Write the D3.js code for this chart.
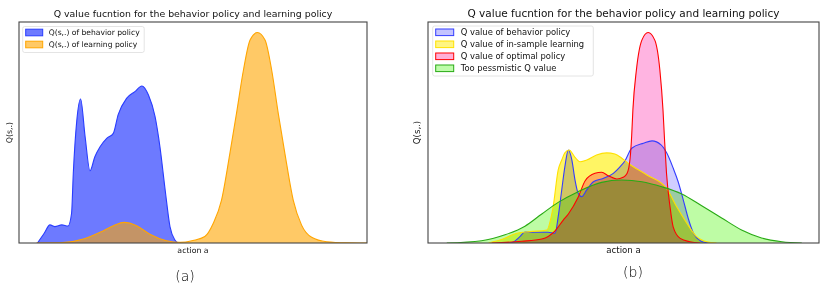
<!DOCTYPE html>
<html><head><meta charset="utf-8">
<script src="https://cdn.jsdelivr.net/npm/d3@7"></script>
<style>
body{margin:0;background:#fff;}
svg{display:block;font-family:"DejaVu Sans",sans-serif;}
</style></head>
<body><svg id="c" width="830" height="288"></svg>
<script>
// ---------- data (action a in 0..100, Q normalised to the tallest peak) ----------
const titleText = "Q value fucntion for the behavior policy and learning policy";
const xLabel = "action a";
const yLabel = "Q(s,.)";
const panelLabels = ["(a)", "(b)"];

const legendA = ["Q(s,.) of behavior policy", "Q(s,.) of learning policy"];
const behaviorA = [[5.3,0],[7.2,0.045],[8.9,0.086],[10.3,0.078],[12.3,0.086],[14.1,0.081],[15.1,0.14],[15.6,0.33],[16.6,0.58],[17.7,0.684],[19.0,0.505],[20.4,0.343],[21.8,0.41],[23.3,0.457],[25.2,0.497],[27.1,0.521],[28.5,0.61],[30.9,0.687],[33.3,0.719],[35.3,0.746],[37.2,0.703],[39.1,0.6],[40.5,0.457],[42.0,0.252],[43.4,0.077],[44.8,0.014],[45.7,0]];
const learningA = [[5,0],[11.8,0.001],[18.5,0.019],[23.3,0.051],[27.1,0.082],[30.2,0.098],[33.8,0.082],[37.6,0.042],[42.4,0.011],[46.3,0.003],[50,0.012],[53.4,0.031],[55.8,0.093],[58.2,0.204],[60.6,0.426],[62.5,0.616],[64.5,0.822],[66.4,0.964],[68.5,1.0],[70.7,0.964],[72.6,0.822],[74.5,0.616],[76.4,0.426],[78.8,0.204],[81.2,0.085],[84.1,0.027],[88.4,0.006],[94.2,0.001],[100,0]];

const legendB = ["Q value of behavior policy", "Q value of in-sample learning", "Q value of optimal policy", "Too pessmistic Q value"];
const behaviorB = [[20.5,0],[21.7,0.004],[23.5,0.03],[24.8,0.052],[27.8,0.051],[30.7,0.051],[32.5,0.046],[33.3,0.125],[34.2,0.252],[35.0,0.362],[35.9,0.442],[36.8,0.394],[37.6,0.299],[38.4,0.236],[39.3,0.22],[40.6,0.252],[42.3,0.291],[44.8,0.307],[47.4,0.331],[49.1,0.362],[50.4,0.391],[52.1,0.45],[55.1,0.474],[57.3,0.485],[59.6,0.466],[61.1,0.426],[62.7,0.356],[64.0,0.29],[65.3,0.204],[66.6,0.114],[67.9,0.046],[69.6,0.011],[71.3,0.001],[72.1,0]];
const inSampleB = [[15.5,0],[18.4,0.014],[22.7,0.046],[26.1,0.054],[30.4,0.062],[31.6,0.133],[32.0,0.172],[33.3,0.347],[34.2,0.394],[35.0,0.428],[36.1,0.442],[37.6,0.407],[38.9,0.386],[40.6,0.394],[43.1,0.418],[45.7,0.428],[47.8,0.423],[49.5,0.404],[51.2,0.379],[56.0,0.323],[61.0,0.26],[63.6,0.172],[66.2,0.094],[68.7,0.03],[71.3,0.006],[73.8,0]];
const optimalB = [[16.3,0],[24.0,0.008],[29.1,0.019],[32.5,0.058],[34.6,0.109],[35.9,0.138],[38.4,0.217],[40.2,0.296],[42.7,0.331],[44.4,0.336],[46.1,0.32],[48.3,0.304],[49.9,0.312],[50.9,0.33],[51.7,0.404],[52.1,0.513],[52.4,0.632],[53.3,0.822],[54.7,0.964],[56.3,1.0],[58.0,0.964],[59.3,0.822],[60.1,0.632],[60.5,0.489],[61.0,0.331],[61.9,0.172],[62.7,0.077],[64.5,0.022],[67.0,0.006],[69.6,0]];
const pessimisticB = [[4.8,0],[13.7,0.011],[19.7,0.039],[24.8,0.08],[29.1,0.138],[33.3,0.193],[38.4,0.244],[44.4,0.288],[49.5,0.299],[54.7,0.291],[59.8,0.267],[64.9,0.233],[70.0,0.177],[75.1,0.119],[80.2,0.062],[85.3,0.024],[90.5,0.006],[95.6,0]];

// ---------- drawing ----------
const svg = d3.select("#c");
const yMax = 1.05;

function panel(cfg){
  const g = svg.append("g");
  const x = d3.scaleLinear().domain([0,100]).range([cfg.left, cfg.right]);
  const y = d3.scaleLinear().domain([0,yMax]).range([cfg.bottom, cfg.top]);
  const area = d3.area().x(d=>x(d[0])).y0(y(0)).y1(d=>y(d[1])).curve(d3.curveMonotoneX);
  const line = d3.line().x(d=>x(d[0])).y(d=>y(d[1])).curve(d3.curveMonotoneX);

  const clipId = "clip"+cfg.id;
  svg.append("clipPath").attr("id",clipId).append("rect")
    .attr("x",cfg.left).attr("y",cfg.top).attr("width",cfg.right-cfg.left).attr("height",cfg.bottom-cfg.top);
  const plot = g.append("g").attr("clip-path",`url(#${clipId})`);
  const fills = plot.append("g").style("isolation","isolate");
  cfg.series.forEach(s=>{
    fills.append("path").datum(s.data).attr("d",area)
      .attr("fill",s.fill).attr("fill-opacity",s.fillOpacity)
      .style("mix-blend-mode",cfg.blend);
  });
  cfg.series.forEach(s=>{
    plot.append("path").datum(s.data).attr("d",line)
      .attr("fill","none").attr("stroke",s.stroke).attr("stroke-width",1.1).attr("stroke-opacity",s.strokeOpacity||1);
  });
  // frame
  g.append("rect").attr("x",cfg.left).attr("y",cfg.top).attr("width",cfg.right-cfg.left).attr("height",cfg.bottom-cfg.top)
    .attr("fill","none").attr("stroke","#444").attr("stroke-width",1.1);
  const cx = (cfg.left+cfg.right)/2;
  g.append("text").attr("x",cx).attr("y",cfg.top-5).attr("text-anchor","middle")
    .attr("font-size",cfg.titleSize).attr("fill","#111").text(titleText);
  g.append("text").attr("x",cx).attr("y",cfg.bottom+10).attr("text-anchor","middle")
    .attr("font-size",cfg.labelSize).attr("fill","#111").text(xLabel);
  g.append("text").attr("transform",`translate(${cfg.yLabelX},${(cfg.top+cfg.bottom)/2}) rotate(-90)`)
    .attr("text-anchor","middle").attr("font-size",cfg.labelSize).attr("fill","#111").text(yLabel);
  g.append("text").attr("x",cfg.panelLabelX).attr("y",cfg.panelLabelY).attr("text-anchor","middle")
    .attr("font-size",14).attr("font-weight",300).attr("fill","#000").text(cfg.panelLabel);

  // legend
  const L = cfg.legend;
  const lg = g.append("g");
  lg.append("rect").attr("x",L.x).attr("y",L.y).attr("width",L.w).attr("height",L.h).attr("rx",2)
    .attr("fill","#fff").attr("fill-opacity",0.85).attr("stroke","#ddd").attr("stroke-width",0.8);
  cfg.series.forEach((s,i)=>{
    const cy = L.y + L.first + i*L.step;
    lg.append("rect").attr("x",L.x+3).attr("y",cy-3.3).attr("width",L.pw).attr("height",6.6)
      .attr("fill",s.legendFill).attr("stroke",s.stroke).attr("stroke-width",1);
    lg.append("text").attr("x",L.x+L.tx).attr("y",cy).attr("dy","0.35em")
      .attr("font-size",L.size).attr("fill","#111").text(cfg.names[i]);
  });
}

panel({
  id:"a", left:19, right:367, top:22, bottom:243, blend:"normal",
  titleSize:9.4, labelSize:7.8, yLabelX:12, panelLabel:panelLabels[0], panelLabelX:185, panelLabelY:281,
  names:legendA,
  legend:{x:22.7,y:26.5,w:121.5,h:26,first:6,step:12,pw:17,tx:26,size:7.6},
  series:[
    {data:behaviorA, fill:"rgb(30,50,255)", fillOpacity:0.65, stroke:"rgb(40,60,255)", legendFill:"rgb(109,122,255)"},
    {data:learningA, fill:"rgb(255,165,0)", fillOpacity:0.6, stroke:"rgb(255,165,0)", legendFill:"rgb(255,201,102)"}
  ]
});

panel({
  id:"b", left:428, right:819, top:22, bottom:243, blend:"multiply",
  titleSize:10.5, labelSize:8.6, yLabelX:420, panelLabel:panelLabels[1], panelLabelX:633, panelLabelY:277,
  names:legendB,
  legend:{x:432.7,y:26,w:160.6,h:50,first:6.3,step:12,pw:18,tx:28,size:8.4},
  series:[
    {data:behaviorB, fill:"rgb(208,206,255)", fillOpacity:1, stroke:"rgb(50,60,255)", legendFill:"rgb(195,195,255)"},
    {data:inSampleB, fill:"rgb(255,245,100)", fillOpacity:1, stroke:"rgb(255,225,0)", legendFill:"rgb(255,245,130)"},
    {data:optimalB, fill:"rgb(255,180,225)", fillOpacity:1, stroke:"rgb(255,0,0)", legendFill:"rgb(255,175,215)"},
    {data:pessimisticB, fill:"rgb(190,252,165)", fillOpacity:1, stroke:"rgb(40,170,20)", legendFill:"rgb(190,252,170)"}
  ]
});
</script></body></html>
